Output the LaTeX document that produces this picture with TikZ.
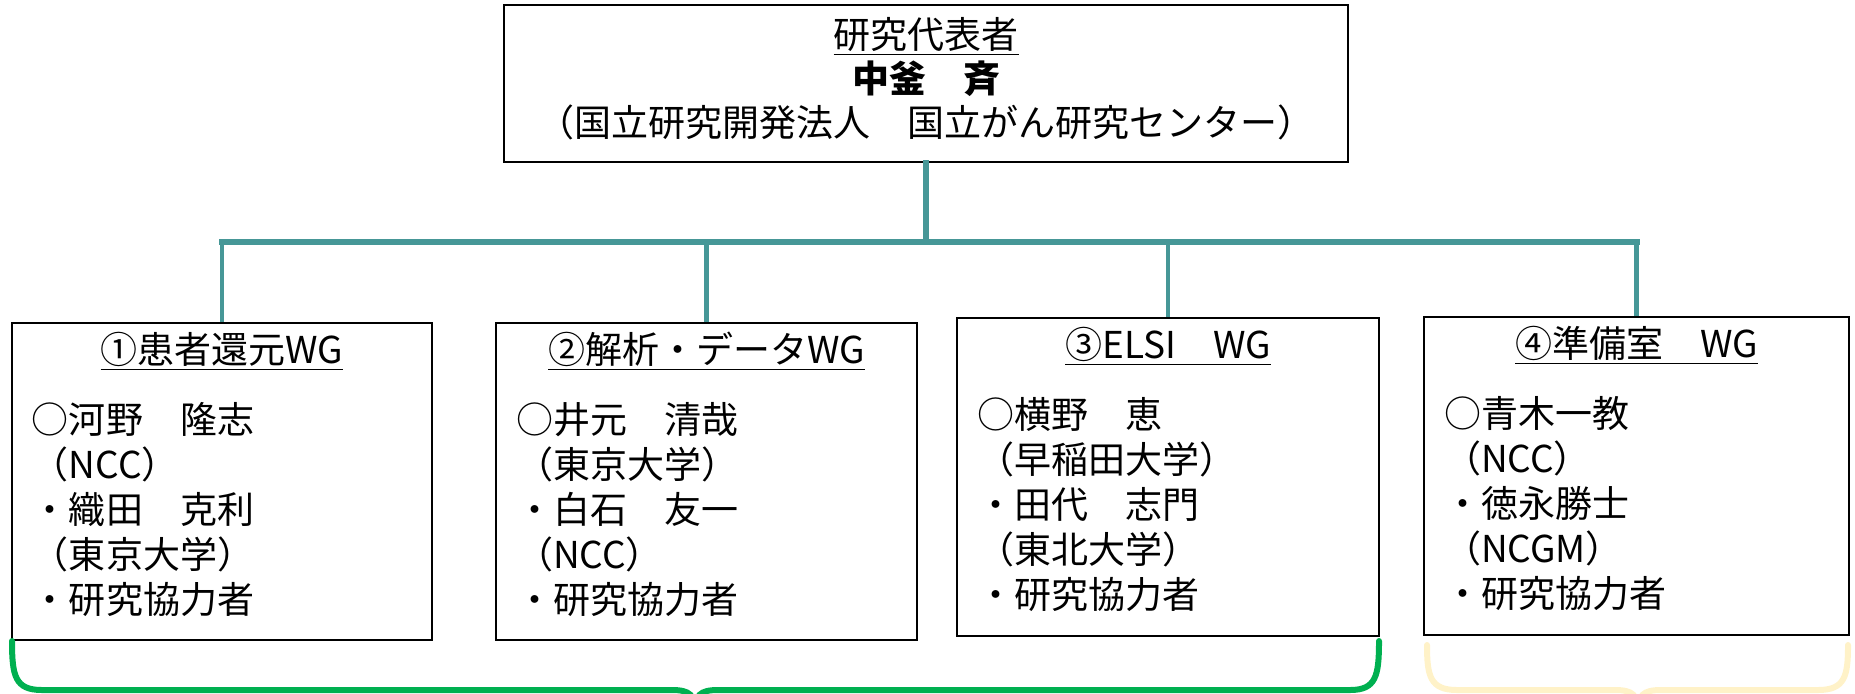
\documentclass[tikz,border=0pt]{standalone}
\usepackage{fontspec}
\setmainfont{Noto Sans CJK JP}
\usepackage{tikz}
\usetikzlibrary{positioning}
\definecolor{wgteal}{RGB}{70,151,151}
\definecolor{wggreen}{RGB}{0,176,80}
\definecolor{wgyellow}{RGB}{255,242,200}
\tikzstyle{Obox}=[draw,line width=1.4pt,inner sep=0]
\tikzstyle{Ohead}=[Obox,minimum width=422pt,minimum height=78.5pt]
\tikzstyle{Owg}=[Obox,minimum width=210pt,minimum height=158.5pt]
\tikzstyle{Otext}=[inner sep=0,align=center,font=\fontsize{18.5}{22}\selectfont]
\tikzstyle{Otitle}=[inner sep=0,anchor=base,font=\fontsize{18.5}{22}\selectfont]
\tikzstyle{Obody}=[inner sep=0,anchor=north west,align=left,font=\fontsize{18.5}{22.5}\selectfont]
\tikzstyle{Olink}=[draw=wgteal,line width=2.3pt]
\tikzstyle{Otrunk}=[draw=wgteal,line width=3pt,line cap=rect]
\tikzstyle{Obrace}=[line width=3pt,line cap=round]

\begin{document}
\begin{tikzpicture}[x=0.5pt,y=-0.5pt]
\useasboundingbox (0,0) rectangle (1855,693);

\node[Ohead] (pi) at (926,83.5) {};
\node[Otext] (pitxt) at ([yshift=2.25pt]pi.center)
  {\underline{研究代表者}\\\textbf{中釜　斉}\\（国立研究開発法人　国立がん研究センター）};

\node[Owg] (wg1) at (222,481.5) {};
\node[Owg,minimum width=210.5pt] (wg2) at (706.5,481.5) {};
\node[Owg,minimum width=211pt,minimum height=159pt] (wg3) at (1168,477) {};
\node[Owg,minimum width=212.5pt,minimum height=159pt] (wg4) at (1636.5,476) {};

\node[Otitle] (t1) at ([yshift=-21pt]wg1.north) {\underline{①患者還元WG}};
\node[Otitle] (t2) at ([yshift=-21pt]wg2.north) {\underline{②解析・データWG}};
\node[Otitle] (t3) at ([yshift=-21pt]wg3.north) {\underline{③ELSI　WG}};
\node[Otitle] (t4) at ([yshift=-21pt]wg4.north) {\underline{④準備室　WG}};

\node[Obody] (m1) at ([xshift=10.5pt,yshift=-40pt]wg1.north west)
  {○河野　隆志\\（NCC）\\・織田　克利\\（東京大学）\\・研究協力者};
\node[Obody] (m2) at ([xshift=10.5pt,yshift=-40pt]wg2.north west)
  {○井元　清哉\\（東京大学）\\・白石　友一\\（NCC）\\・研究協力者};
\node[Obody] (m3) at ([xshift=10.5pt,yshift=-40pt]wg3.north west)
  {○横野　恵\\（早稲田大学）\\・田代　志門\\（東北大学）\\・研究協力者};
\node[Obody] (m4) at ([xshift=10.5pt,yshift=-40pt]wg4.north west)
  {○青木一教\\（NCC）\\・徳永勝士\\（NCGM）\\・研究協力者};

\coordinate (hub) at ([yshift=-39.5pt]pi.south);
\draw[Otrunk] (pi.south) -- (hub);
\draw[Otrunk] (wg1.north |- hub) -- (wg4.north |- hub);
\foreach \w in {wg1,wg2,wg3,wg4}
  \draw[Olink] (\w.north |- hub) -- (\w.north);

% braces under the groups
\draw[Obrace,wggreen] (12,641) .. controls (12,676) and (15,690) .. (42,690) -- (672,690)
  .. controls (690,690) and (695,695) .. (695,712) .. controls (695,695) and (700,690) .. (718,690)
  -- (1350,690) .. controls (1376,690) and (1379,676) .. (1379,641);
\draw[Obrace,wgyellow] (1427,645) .. controls (1427,676) and (1430,690) .. (1457,690) -- (1615,690)
  .. controls (1633,690) and (1638,695) .. (1638,712) .. controls (1638,695) and (1643,690) .. (1661,690)
  -- (1818,690) .. controls (1845,690) and (1848,676) .. (1848,645);
\end{tikzpicture}
\end{document}
